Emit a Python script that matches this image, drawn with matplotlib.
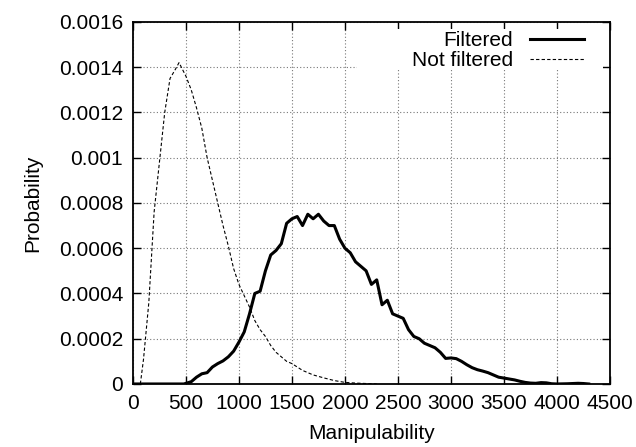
import numpy as np
import matplotlib.pyplot as plt
import matplotlib.ticker as ticker
from matplotlib.patches import Rectangle

plt.rcParams['font.family'] = ['Liberation Sans', 'DejaVu Sans']

# Filtered (solid, thick)
filt_x = [0, 480, 550, 600, 650, 700, 750, 800, 850, 900, 950, 1000, 1050, 1100,
          1150, 1200, 1250, 1300, 1350, 1400, 1450, 1500, 1550, 1600, 1650, 1700,
          1750, 1800, 1850, 1900, 1950, 2000, 2050, 2100, 2150, 2200, 2250, 2300,
          2350, 2400, 2450, 2500, 2550, 2600, 2650, 2700, 2750, 2800, 2850, 2900,
          2950, 3000, 3050, 3100, 3150, 3200, 3250, 3300, 3350, 3400, 3450, 3500,
          3550, 3600, 3650, 3700, 3750, 3800, 3850, 3900, 3950, 4000, 4100, 4200,
          4250, 4300]
filt_y = [0, 0, 0.00001, 0.00003, 0.000045, 0.00005, 0.000075, 0.00009, 0.000102,
          0.00012, 0.000145, 0.000185, 0.00023, 0.00031, 0.0004, 0.00041, 0.0005,
          0.00057, 0.00059, 0.00062, 0.00071, 0.00073, 0.00074, 0.0007, 0.00075,
          0.00073, 0.00075, 0.00072, 0.0007, 0.0007, 0.00064, 0.0006, 0.00058,
          0.00054, 0.00052, 0.0005, 0.00044, 0.00046, 0.00035, 0.00037, 0.00031,
          0.0003, 0.00029, 0.00024, 0.00021, 0.0002, 0.00018, 0.00017, 0.00016,
          0.00014, 0.000113, 0.000115, 0.000112, 0.0001, 0.000085, 0.000072,
          0.000063, 0.000057, 0.00005, 0.00004, 0.00003, 0.000026, 0.000022,
          0.000018, 0.000012, 0.000007, 0.000004, 0.000003, 0.000006, 0.000005,
          0.000001, 0, 0.000001, 0.000003, 0.000002, 0]

# Not filtered (dashed, thin)
raw_x = [70, 100, 150, 200, 250, 300, 350, 400, 435, 500, 550, 600, 650, 700, 750,
         800, 850, 900, 950, 1000, 1050, 1100, 1150, 1200, 1250, 1300, 1350, 1400,
         1450, 1500, 1600, 1700, 1800, 1900, 2000, 2100, 2200, 2300]
raw_y = [0, 0.00011, 0.00036, 0.00076, 0.00098, 0.0012, 0.00135, 0.00139, 0.00142,
         0.00136, 0.0013, 0.00122, 0.00113, 0.001, 0.0009, 0.0008, 0.0007, 0.00061,
         0.00051, 0.00044, 0.00039, 0.00034, 0.00028, 0.00024, 0.00021, 0.00017,
         0.00014, 0.00012, 0.0001, 0.00009, 0.00006, 0.00004, 0.000027, 0.000015,
         0.000007, 0.000004, 0.000002, 0]

fig = plt.figure(figsize=(6.36, 4.47), dpi=100)
ax = fig.add_axes([0.209, 0.141, 0.75, 0.81])

ax.plot(filt_x, filt_y, color='black', lw=2.2, label='Filtered', zorder=3)
ax.plot(raw_x, raw_y, color='black', lw=0.8, ls=(0, (3, 2)), label='Not filtered', zorder=3)

ax.set_xlim(0, 4500)
ax.set_ylim(0, 0.0016)
ax.xaxis.set_major_locator(ticker.MultipleLocator(500))
ax.yaxis.set_major_locator(ticker.MultipleLocator(0.0002))
ax.yaxis.set_major_formatter(ticker.FuncFormatter(lambda v, p: '%g' % round(v, 6)))

ax.grid(True, color='#777777', ls=(0, (1, 2)), lw=0.8)
ax.tick_params(direction='in', top=True, right=True, length=6, width=1,
               labelsize=15, pad=7)
for s in ax.spines.values():
    s.set_linewidth(1.3)

# white key area hides the grid (but not the border ticks), like gnuplot
ax.add_patch(Rectangle((0.47, 0.867), 0.515, 0.113, transform=ax.transAxes,
                       facecolor='white', edgecolor='none', zorder=2.6))

ax.set_xlabel('Manipulability', fontsize=15, labelpad=8)
ax.set_ylabel('Probability', fontsize=15, labelpad=12)

leg = ax.legend(loc='upper right', bbox_to_anchor=(0.9455, 0.974), markerfirst=False,
                fontsize=15, frameon=False, borderaxespad=0, borderpad=0,
                handlelength=2.6, labelspacing=0.05, handletextpad=0.8)
for t in leg.get_texts():
    t.set_ha('right')

fig.savefig('out.png', dpi=100)
